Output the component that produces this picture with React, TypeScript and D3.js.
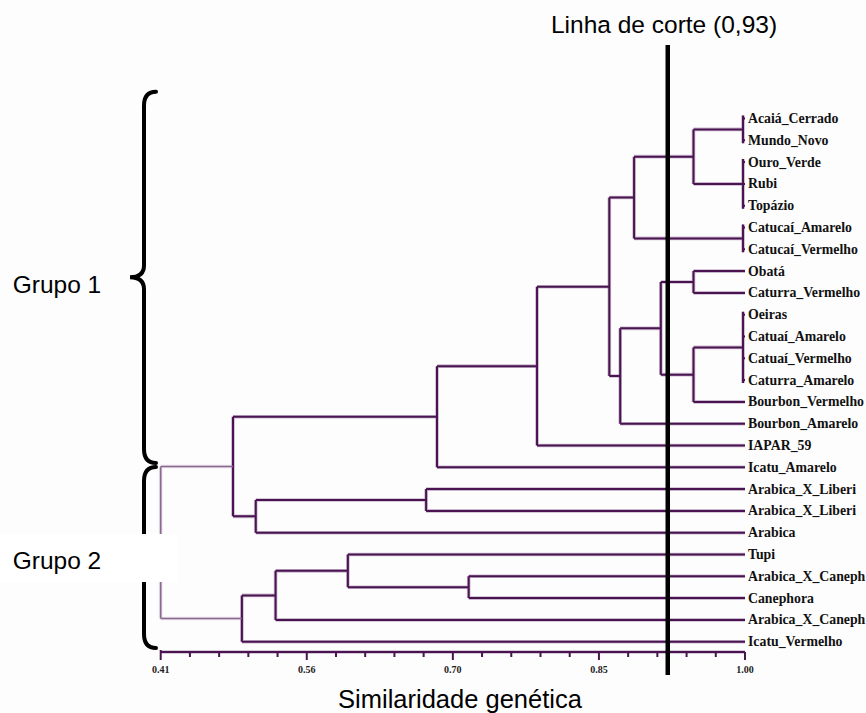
import React from "react";
import * as d3 from "d3";

const leafNames = [
  "Acaiá_Cerrado", "Mundo_Novo", "Ouro_Verde", "Rubi", "Topázio",
  "Catucaí_Amarelo", "Catucaí_Vermelho", "Obatá", "Caturra_Vermelho",
  "Oeiras", "Catuaí_Amarelo", "Catuaí_Vermelho", "Caturra_Amarelo",
  "Bourbon_Vermelho", "Bourbon_Amarelo", "IAPAR_59", "Icatu_Amarelo",
  "Arabica_X_Liberi", "Arabica_X_Liberi", "Arabica", "Tupi",
  "Arabica_X_Caneph", "Canephora", "Arabica_X_Caneph", "Icatu_Vermelho",
];

// internal nodes (ids start at 25), children refer to node ids
const mergeChildren: number[][] = [
  [0, 1], [2, 3, 4], [25, 26], [5, 6], [27, 28], [7, 8], [9, 10, 11, 12],
  [31, 13], [30, 32], [33, 14], [29, 34], [35, 15], [36, 16], [17, 18],
  [38, 19], [37, 39], [21, 22], [20, 41], [42, 23], [43, 24], [40, 44],
];
const mergeHeights = [
  0.998, 0.998, 0.948, 0.998, 0.888, 0.948, 0.998, 0.948, 0.915, 0.874,
  0.863, 0.79, 0.689, 0.678, 0.506, 0.483, 0.721, 0.599, 0.526, 0.492, 0.41,
];

const axisTickLabels = ["0.41", "0.56", "0.70", "0.85", "1.00"];
const minorPerMajor = 5;
const cutValue = 0.922;
const cutLabel = "Linha de corte (0,93)";
const axisTitle = "Similaridade genética";
const groupLabels = ["Grupo 1", "Grupo 2"];

const W = 866, H = 713;
const SANS = "'Liberation Sans', Arial, sans-serif";
const SERIF = "'Liberation Serif', 'Times New Roman', serif";
const PURPLE = "#4a1450";
const HALO = "#b49abb";

export default function App() {
  const x = d3.scaleLinear().domain([0.41, 1.0]).range([160.7, 745]);
  const y = d3.scalePoint<number>().domain(leafNames.map((_, i) => i)).range([118.5, 641.7]);

  const nLeaves = leafNames.length;
  const nodeY: number[] = [];
  const nodeH: number[] = [];
  leafNames.forEach((_, i) => { nodeY[i] = y(i) as number; nodeH[i] = 1.0; });
  mergeChildren.forEach((ch, k) => {
    const id = nLeaves + k;
    nodeH[id] = mergeHeights[k];
    nodeY[id] = (nodeY[ch[0]] + nodeY[ch[ch.length - 1]]) / 2;
  });
  const rootId = nLeaves + mergeChildren.length - 1;

  const segs: { d: string; root: boolean }[] = [];
  mergeChildren.forEach((ch, k) => {
    const id = nLeaves + k;
    const px = x(nodeH[id]);
    const path = d3.path();
    const ext = ch.every((c) => c < nLeaves) && nodeH[id] > 0.99 ? 3 : 0;
    path.moveTo(px, nodeY[ch[0]] - ext);
    path.lineTo(px, nodeY[ch[ch.length - 1]] + ext);
    ch.forEach((c) => {
      path.moveTo(px, nodeY[c]);
      path.lineTo(x(nodeH[c]), nodeY[c]);
    });
    segs.push({ d: path.toString(), root: id === rootId });
  });

  const nTicks = (axisTickLabels.length - 1) * minorPerMajor;
  const tickScale = d3.scaleLinear().domain([0, nTicks]).range([x(0.41), x(1.0)]);
  const axisY = 652;

  const brace = (y0: number, y1: number) => {
    const ym = (y0 + y1) / 2;
    const xv = 144, xe = 156, xt = 130;
    return `M${xe},${y0} Q${xv},${y0} ${xv},${y0 + 14} L${xv},${ym - 12} Q${xv},${ym} ${xt},${ym} Q${xv},${ym} ${xv},${ym + 12} L${xv},${y1 - 14} Q${xv},${y1} ${xe},${y1}`;
  };

  const cx = x(cutValue);

  return (
    <svg width={W} height={H} style={{ position: "absolute", left: 0, top: 0, background: "#fff" }}>
      <rect x={0} y={0} width={W} height={H} fill="#fdfdfd" />
      {segs.map((s, i) => (
        <path key={"h" + i} d={s.d} fill="none" stroke={HALO} strokeWidth={3.6} strokeOpacity={s.root ? 0.3 : 0.7} />
      ))}
      {segs.map((s, i) => (
        <path key={"c" + i} d={s.d} fill="none" stroke={s.root ? "#8a6890" : PURPLE} strokeWidth={s.root ? 1.6 : 2} />
      ))}
      <line x1={x(0.41)} x2={x(1.0)} y1={axisY} y2={axisY} stroke={HALO} strokeWidth={3.6} strokeOpacity={0.7} />
      <line x1={x(0.41)} x2={x(1.0)} y1={axisY} y2={axisY} stroke={PURPLE} strokeWidth={2} />
      {d3.range(nTicks + 1).map((i) => (
        <line key={"t" + i} x1={tickScale(i)} x2={tickScale(i)} y1={axisY - (i === 0 ? 2 : 0)}
          y2={axisY + (i % minorPerMajor === 0 ? 8 : 5)} stroke={PURPLE} strokeWidth={2} />
      ))}
      {axisTickLabels.map((t, j) => (
        <text key={"tl" + j} x={tickScale(j * minorPerMajor)} y={673} textAnchor="middle"
          fontFamily={SERIF} fontWeight="bold" fontSize={10} fill="#222">{t}</text>
      ))}
      {leafNames.map((n, i) => (
        <text key={"l" + i} x={748} y={(y(i) as number) + 4.5} fontFamily={SERIF} fontWeight="bold"
          fontSize={13.8} fill="#111">{n}</text>
      ))}
      <path d={brace(91.7, 463)} fill="none" stroke="#000" strokeWidth={4} strokeLinecap="round" />
      <path d={brace(467, 648)} fill="none" stroke="#000" strokeWidth={4} strokeLinecap="round" />
      <rect x={0} y={534} width={178} height={48} fill="#fff" />
      <text x={12.7} y={293} fontFamily={SANS} fontSize={24.5} fill="#000">{groupLabels[0]}</text>
      <text x={12.7} y={569} fontFamily={SANS} fontSize={24.5} fill="#000">{groupLabels[1]}</text>
      <line x1={cx} x2={cx} y1={45} y2={675} stroke="#000" strokeWidth={4.5} />
      <text x={664} y={33} textAnchor="middle" fontFamily={SANS} fontSize={24.5} fill="#000">{cutLabel}</text>
      <text x={460} y={708} textAnchor="middle" fontFamily={SANS} fontSize={25.5} fill="#000">{axisTitle}</text>
    </svg>
  );
}
